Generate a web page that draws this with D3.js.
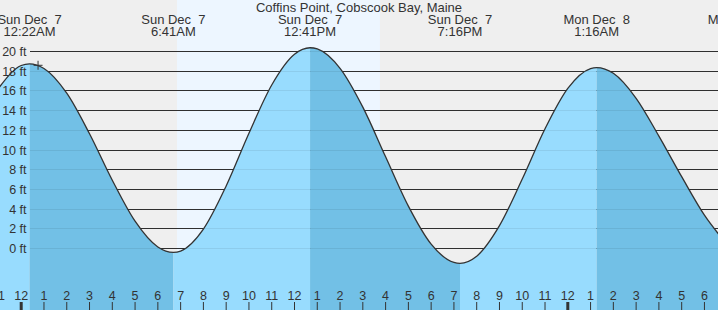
<!DOCTYPE html>
<html>
<head>
<meta charset="utf-8">
<script src="https://cdn.jsdelivr.net/npm/d3@7"></script>
<style>
  html, body { margin: 0; padding: 0; background: #efefef; }
  svg { display: block; }
  text { font-family: "Liberation Sans", Arial, sans-serif; fill: #333; }
</style>
</head>
<body>
<div id="chart"></div>
<script>
// ---- data (hours since Sun Dec 7 00:00) ----
const title = "Coffins Point, Cobscook Bay, Maine";
const extremeDays  = ["Sun Dec  7", "Sun Dec  7", "Sun Dec  7", "Sun Dec  7", "Mon Dec  8", "Mon Dec  8"];
const extremeTimes = ["12:22AM", "6:41AM", "12:41PM", "7:16PM", "1:16AM", "7:36AM"];
const extremeHours = [0.367, 6.683, 12.683, 19.267, 25.267, 31.6];
const extremeFt    = [18.75, -0.4, 20.38, -1.5, 18.37, -0.3];

const tideHours = [-1, 0, 0.367, 1, 2, 3, 4, 5, 6, 6.683, 7, 8, 9, 10, 11, 12, 12.683,
  13, 14, 15, 16, 17, 18, 19, 19.267, 20, 21, 22, 23, 24, 25, 25.267,
  26, 27, 28, 29, 30, 31];
const tideFt = [16.25, 18.58, 18.75, 18.28, 15.77, 11.65, 6.93, 2.77, 0.15, -0.4, -0.26, 1.97, 6.35, 11.70, 16.60, 19.72, 20.38,
  20.26, 18.29, 14.35, 9.31, 4.30, 0.44, -1.41, -1.5, -0.78, 2.32, 7.05, 12.16, 16.26, 18.27, 18.37,
  17.79, 15.25, 11.41, 7.29, 3.38, 0.4];

const sunriseHour = 6.84;
const sunsetHour = 15.75;
const nowHour = 0.74;
const nowFt = 18.6;

const yTicks = [0, 2, 4, 6, 8, 10, 12, 14, 16, 18, 20];
const hourTicks = d3.range(-1, 31);

// ---- layout ----
const W = 718, H = 310;
const x = d3.scaleLinear().domain([0, 24]).range([21.2, 21.2 + 22.775 * 24]);
const y = d3.scaleLinear().domain([0, 20]).range([248.5, 51.5]);
const gridX0 = 30;
const colLight = "#98dcfe", colDark = "#72c0e6";

const svg = d3.select("#chart").append("svg").attr("width", W).attr("height", H);

// backgrounds
svg.append("rect").attr("width", W).attr("height", H).attr("fill", "#efefef");
svg.append("rect").attr("x", x(sunriseHour)).attr("y", 0)
  .attr("width", x(sunsetHour) - x(sunriseHour)).attr("height", H).attr("fill", "#edf6ff");

// grid lines (black, under the water)
const snap = v => Math.round(v - 0.5) + 0.5;
svg.append("g").selectAll("line").data(yTicks).join("line")
  .attr("x1", gridX0).attr("x2", W)
  .attr("y1", d => snap(y(d))).attr("y2", d => snap(y(d)))
  .attr("stroke", "#333").attr("stroke-width", 1);

// water
const pts = tideHours.map((h, i) => ({ h, ft: tideFt[i] }));
const area = d3.area().x(d => x(d.h)).y0(H).y1(d => y(d.ft)).curve(d3.curveMonotoneX);
const line = d3.line().x(d => x(d.h)).y(d => y(d.ft)).curve(d3.curveMonotoneX);

svg.append("clipPath").attr("id", "water").append("path").attr("d", area(pts));

const lastH = tideHours[tideHours.length - 1];
const bounds = [tideHours[0], ...extremeHours.filter(h => h < lastH), lastH];
const bVals = [tideFt[0], ...extremeFt.filter((v, i) => extremeHours[i] < lastH), tideFt[tideFt.length - 1]];
const segs = d3.range(bounds.length - 1).map(i => ({
  a: bounds[i], b: bounds[i + 1], rising: bVals[i + 1] > bVals[i]
}));
svg.append("g").attr("clip-path", "url(#water)").selectAll("rect").data(segs).join("rect")
  .attr("x", d => x(d.a)).attr("width", d => x(d.b) - x(d.a))
  .attr("y", 0).attr("height", H)
  .attr("fill", d => d.rising ? colLight : colDark);

// faint grid lines over the water
svg.append("g").selectAll("line").data(yTicks).join("line")
  .attr("x1", gridX0).attr("x2", W)
  .attr("y1", d => snap(y(d))).attr("y2", d => snap(y(d)))
  .attr("stroke", "#000").attr("stroke-opacity", 0.07).attr("stroke-width", 1);

// curve
svg.append("path").attr("d", line(pts)).attr("fill", "none")
  .attr("stroke", "#333").attr("stroke-width", 1.3);

// now marker
const nx = x(nowHour), ny = y(nowFt);
svg.append("path").attr("d", `M${nx - 4.5},${ny}H${nx + 4.5}M${nx},${ny - 4.5}V${ny + 4.5}`)
  .attr("stroke", "#333").attr("stroke-width", 1);

// y labels
svg.append("g").selectAll("text").data(yTicks).join("text")
  .attr("x", 26.5).attr("y", d => y(d) + 4.5)
  .attr("text-anchor", "end").style("font-size", "12.5px")
  .text(d => d + " ft");

// bottom hour ticks
svg.append("g").selectAll("line").data(hourTicks).join("line")
  .attr("x1", d => x(d)).attr("x2", d => x(d))
  .attr("y1", 302).attr("y2", H)
  .attr("stroke", "#333")
  .attr("stroke-width", d => (((d % 24) + 24) % 24 === 0) ? 3 : 1);
svg.append("g").selectAll("text").data(hourTicks).join("text")
  .attr("x", d => x(d)).attr("y", 300)
  .attr("text-anchor", "middle").style("font-size", "12.5px")
  .text(d => { const m = ((d % 12) + 12) % 12; return m === 0 ? 12 : m; });

// header
svg.append("text").attr("x", 359).attr("y", 11.5).attr("text-anchor", "middle")
  .style("font-size", "13px").text(title);
const hdr = svg.append("g").selectAll("g").data(extremeHours).join("g");
hdr.append("text").attr("x", d => x(d)).attr("y", 24).attr("text-anchor", "middle")
  .style("font-size", "13px").style("white-space", "pre")
  .text((d, i) => extremeDays[i]);
hdr.append("text").attr("x", d => x(d)).attr("y", 36).attr("text-anchor", "middle")
  .style("font-size", "13px")
  .text((d, i) => extremeTimes[i]);
</script>
</body>
</html>
